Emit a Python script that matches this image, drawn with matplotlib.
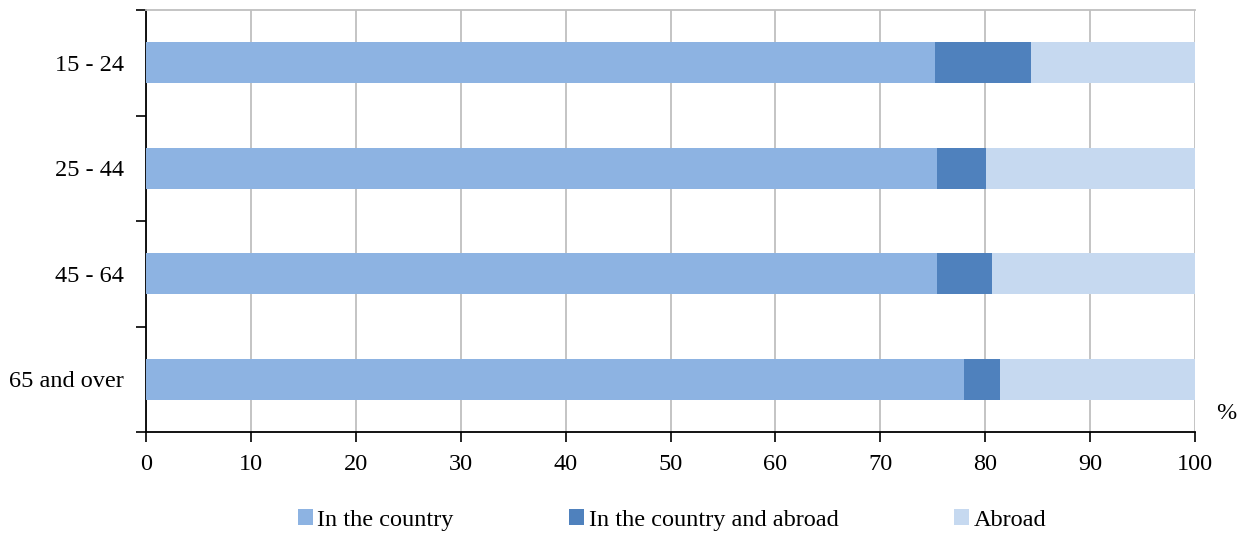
import numpy as np
import matplotlib.pyplot as plt

plt.rcParams["font.family"] = ["Liberation Serif", "DejaVu Serif"]

groups = ["15 - 24", "25 - 44", "45 - 64", "65 and over"]
in_country = [75.2, 75.4, 75.4, 78.0]
both = [9.2, 4.7, 5.2, 3.4]
abroad = [15.6, 19.9, 19.4, 18.6]

series = ["In the country", "In the country and abroad", "Abroad"]
colors = ["#8DB3E2", "#4F81BD", "#C6D9F0"]

fs = 17.5

fig = plt.figure(figsize=(12.42, 5.33), dpi=100)
ax = fig.add_axes([0.1176, 0.1895, 0.8446, 0.7917])

y = np.arange(len(groups))
left = np.zeros(len(groups))
for vals, name, col in zip([in_country, both, abroad], series, colors):
    ax.barh(y, vals, left=left, height=0.39, color=col, label=name, zorder=3)
    left += np.array(vals)

ax.set_xlim(0, 100)
ax.set_ylim(len(groups) - 0.5, -0.5)
ax.set_xticks(np.arange(0, 101, 10))
ax.tick_params(axis="x", labelsize=fs, length=7, width=1.2, direction="out", pad=9)

ax.set_yticks(y)
ax.set_yticklabels(groups)
ax.tick_params(axis="y", which="major", length=0, labelsize=fs, pad=16)
ax.set_yticks(np.arange(-0.5, len(groups), 1), minor=True)
ax.tick_params(axis="y", which="minor", length=7, width=1.2, direction="out")

ax.grid(axis="x", color="#BFBFBF", linewidth=1.3, zorder=0)
ax.spines["right"].set_visible(False)
ax.spines["top"].set_color("#BFBFBF")
ax.spines["top"].set_linewidth(1.3)
ax.spines["left"].set_linewidth(1.3)
ax.spines["bottom"].set_linewidth(1.3)

ax.text(1.03, 0.02, "%", transform=ax.transAxes, fontsize=fs, ha="center", va="bottom")

fig.legend(loc="center left", bbox_to_anchor=(298 / 1242, 1 - 520 / 533), ncol=3,
           frameon=False, fontsize=fs, borderpad=0, borderaxespad=0,
           handlelength=0.6, handleheight=0.6, handletextpad=0.2,
           columnspacing=4.75)

fig.savefig("out.png", dpi=100)
